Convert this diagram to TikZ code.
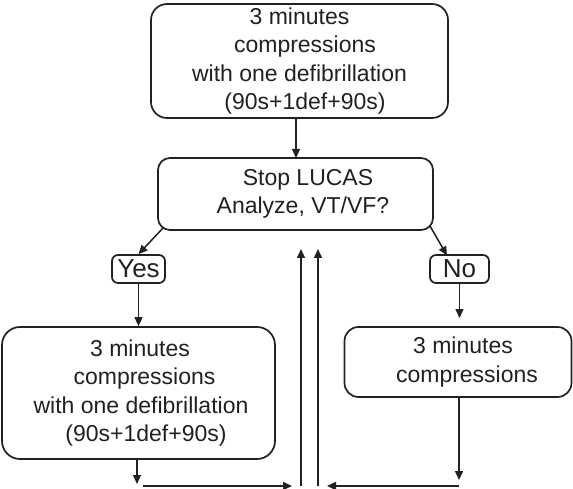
\documentclass[tikz,border=0pt]{standalone}
\usepackage{fontspec}
\setmainfont{Liberation Sans}
\usetikzlibrary{arrows.meta}
\definecolor{ink}{gray}{0.13}
\tikzset{
  box/.style={draw=ink, text=ink, line width=1.7pt, rounded corners=#1, align=center,
    font=\fontsize{23}{28.5}\selectfont, inner sep=0pt},
  box/.default=14pt,
  tag/.style={box=6pt, font=\fontsize{26}{28}\selectfont},
  arr/.style={draw=ink, line width=1.5pt, -{Triangle[length=9pt,width=8pt]}},
}
\begin{document}
\begin{tikzpicture}[x=1pt,y=-1pt]
\useasboundingbox (0,0) rectangle (573,489);
\node[box=16pt, minimum width=297pt, minimum height=114pt] (top) at (299.5,61)
  {3 minutes\\\hspace*{11pt}compressions\\with one defibrillation\\\hspace*{11pt}(90s+1def+90s)};
\node[box=12pt, minimum width=275pt, minimum height=72pt] (stop) at (295.5,194)
  {\hspace*{25pt}Stop LUCAS\\\hspace*{15pt}Analyze, VT/VF?};
\node[tag, minimum width=53pt, minimum height=28pt] (yes) at (138.5,269) {Yes};
\node[tag, minimum width=59pt, minimum height=28pt] (no) at (459.5,269) {No};
\node[box=18pt, minimum width=273pt, minimum height=132pt] (left) at (138.5,393)
  {\hspace*{3pt}3 minutes\\\hspace*{12pt}compressions\\\hspace*{5pt}with one defibrillation\\\hspace*{15pt}(90s+1def+90s)};
\node[box=14pt, minimum width=227pt, minimum height=70pt] (right) at (458,362)
  {\hspace*{10pt}3 minutes\\\hspace*{18pt}compressions};
% connectors
\coordinate (topS) at (296,118);
\coordinate (stopN) at (296,158);
\draw[arr] (topS) -- (stopN);
\coordinate (sl) at (163,228);
\coordinate (sr) at (430,226);
\draw[arr] (sl) -- (yes.north);
\coordinate (noN) at (447,255.5);
\draw[arr] (sr) -- (noN);
\draw[arr] (yes.south) -- (left.north);
\coordinate (noEnd) at (459.5,318);
\draw[arr] (no.south) -- (noEnd);
\coordinate (lS) at (137,459);
\coordinate (lEnd) at (137,484);
\draw[arr] (lS) -- (lEnd);
\coordinate (rS) at (459,397);
\coordinate (rEnd) at (459,480);
\draw[arr] (rS) -- (rEnd);
\coordinate (h1a) at (143,486);
\coordinate (h1b) at (292,486);
\draw[arr] (h1a) -- (h1b);
\coordinate (h2a) at (459,486);
\coordinate (h2b) at (327,486);
\draw[arr] (h2a) -- (h2b);
\coordinate (u1a) at (301,486);
\coordinate (u1b) at (301,249);
\draw[arr] (u1a) -- (u1b);
\coordinate (u2a) at (318,486);
\coordinate (u2b) at (318,249);
\draw[arr] (u2a) -- (u2b);
\end{tikzpicture}
\end{document}
